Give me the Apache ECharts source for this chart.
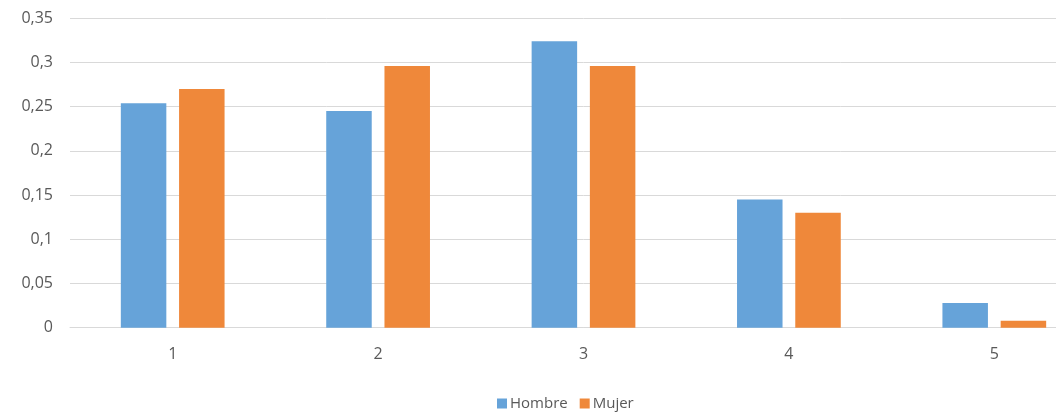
<!DOCTYPE html>
<html>
<head>
<meta charset="utf-8">
<script src="https://cdn.jsdelivr.net/npm/echarts@6/dist/echarts.min.js"></script>
<style>
html,body{margin:0;padding:0;background:#fff;overflow:hidden;width:1056px;height:414px;}
#chart{width:1097px;height:414px;}
</style>
</head>
<body>
<div id="chart"></div>
<script>
const categories = ['1', '2', '3', '4', '5'];
const hombre = [0.254, 0.245, 0.324, 0.145, 0.028];
const mujer = [0.270, 0.296, 0.296, 0.130, 0.008];
const seriesNames = ['Hombre', 'Mujer'];

const chart = echarts.init(document.getElementById('chart'));
const font = '"Open Sans", "Noto Sans", sans-serif';
chart.setOption({
  backgroundColor: '#ffffff',
  animation: false,
  grid: { left: 70, top: 18.3, right: 0, height: 309.4, containLabel: false },
  legend: {
    left: 492, top: 391,
    itemWidth: 10, itemHeight: 10, itemGap: 12,
    icon: 'rect',
    textStyle: { color: '#595959', fontSize: 15, fontFamily: font, padding: [0, 0, 0, -2] },
    data: seriesNames
  },
  xAxis: {
    type: 'category',
    data: categories,
    axisLine: { lineStyle: { color: '#d9d9d9', width: 1 } },
    axisTick: { show: false },
    axisLabel: { color: '#595959', fontSize: 16, fontFamily: font, margin: 19 }
  },
  yAxis: {
    type: 'value',
    min: 0, max: 0.35, interval: 0.05,
    axisLine: { show: false },
    axisTick: { show: false },
    splitLine: { lineStyle: { color: '#d9d9d9', width: 1 } },
    axisLabel: {
      color: '#595959', fontSize: 16, fontFamily: font, margin: 17,
      formatter: v => String(Math.round(v * 100) / 100).replace('.', ',')
    }
  },
  series: [
    { name: seriesNames[0], type: 'bar', data: hombre, barWidth: 45.5, barGap: '28%',
      itemStyle: { color: '#66a3d9' } },
    { name: seriesNames[1], type: 'bar', data: mujer, barWidth: 45.5, barGap: '28%',
      itemStyle: { color: '#ef883a' } }
  ]
});
</script>
</body>
</html>
